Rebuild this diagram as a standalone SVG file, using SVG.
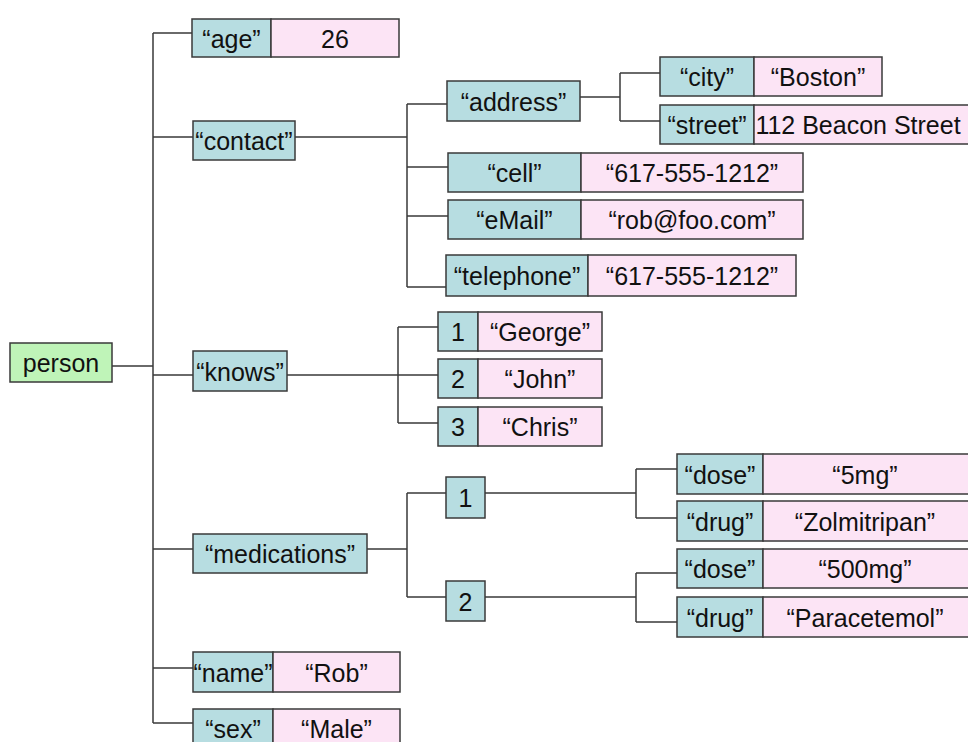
<svg xmlns="http://www.w3.org/2000/svg" width="968" height="742" viewBox="0 0 968 742">
<style>
.k{fill:#b7dde1;stroke:#3a3a3a;stroke-width:1.5}
.v{fill:#fce4f5;stroke:#3a3a3a;stroke-width:1.5}
.r{fill:#bff4b8;stroke:#3a3a3a;stroke-width:1.5}
text{font-family:"Liberation Sans",Arial,sans-serif;font-size:25px;fill:#111;text-anchor:middle}
.c{fill:none;stroke:#3a3a3a;stroke-width:1.5}
</style>
<rect width="968" height="742" fill="#fff"/>
<g id="connectors" class="c">
<path d="M153,33V723M112,366H153M153,33H192M153,137H193M153,375H193M153,549H193M153,668H193M153,723H193"/>
<path d="M295,137H407M407,104V287M407,104H447M407,167H448M407,216H448M407,287H446"/>
<path d="M580,97H620M620,73V121M620,73H660M620,121H660"/>
<path d="M287,375H438M398,327V423M398,327H438M398,423H438"/>
<path d="M367,549H407M407,493V597M407,493H446M407,597H446"/>
<path d="M485,493H636M636,469V518M636,469H677M636,518H677"/>
<path d="M485,597H636M636,573V622M636,573H677M636,622H677"/>
</g>
<g id="person"><rect class="r" x="10" y="343" width="102" height="39"/><text x="61" y="372">person</text></g>
<g id="age"><rect class="k" x="192" y="19" width="79" height="38"/><rect class="v" x="271" y="19" width="128" height="38"/><text x="231.5" y="47.5">“age”</text><text x="335" y="47.5">26</text></g>
<g id="contact"><rect class="k" x="193" y="121" width="102" height="39"/><text x="244" y="150">“contact”</text></g>
<g id="address"><rect class="k" x="447" y="81" width="133" height="40"/><text x="513.5" y="111">“address”</text></g>
<g id="city"><rect class="k" x="660" y="57" width="94" height="39"/><rect class="v" x="754" y="57" width="128" height="39"/><text x="707" y="86">“city”</text><text x="818" y="86">“Boston”</text></g>
<g id="street"><rect class="k" x="660" y="105" width="94" height="39"/><rect class="v" x="754" y="105" width="220" height="39"/><text x="707" y="134">“street”</text><text x="858" y="134">112 Beacon Street</text></g>
<g id="cell"><rect class="k" x="448" y="153" width="133" height="39"/><rect class="v" x="581" y="153" width="222" height="39"/><text x="514.5" y="182">“cell”</text><text x="692" y="182">“617-555-1212”</text></g>
<g id="email"><rect class="k" x="448" y="200" width="133" height="39"/><rect class="v" x="581" y="200" width="222" height="39"/><text x="514.5" y="229">“eMail”</text><text x="692" y="229">“rob@foo.com”</text></g>
<g id="telephone"><rect class="k" x="446" y="255" width="142" height="41"/><rect class="v" x="588" y="255" width="208" height="41"/><text x="517" y="285">“telephone”</text><text x="692" y="285">“617-555-1212”</text></g>
<g id="knows"><rect class="k" x="193" y="351" width="94" height="40"/><text x="240" y="380.5">“knows”</text></g>
<g id="knows1"><rect class="k" x="438" y="312" width="40" height="39"/><rect class="v" x="478" y="312" width="124" height="39"/><text x="458" y="341">1</text><text x="540" y="341">“George”</text></g>
<g id="knows2"><rect class="k" x="438" y="359" width="40" height="39"/><rect class="v" x="478" y="359" width="124" height="39"/><text x="458" y="388">2</text><text x="540" y="388">“John”</text></g>
<g id="knows3"><rect class="k" x="438" y="407" width="40" height="39"/><rect class="v" x="478" y="407" width="124" height="39"/><text x="458" y="436">3</text><text x="540" y="436">“Chris”</text></g>
<g id="medications"><rect class="k" x="193" y="534" width="174" height="39"/><text x="280" y="563">“medications”</text></g>
<g id="med1"><rect class="k" x="446" y="477" width="39" height="41"/><text x="465.5" y="507">1</text></g>
<g id="med2"><rect class="k" x="446" y="581" width="39" height="40"/><text x="465.5" y="610.5">2</text></g>
<g id="dose1"><rect class="k" x="677" y="454" width="86" height="40"/><rect class="v" x="763" y="454" width="210" height="40"/><text x="720" y="483.5">“dose”</text><text x="865" y="483.5">“5mg”</text></g>
<g id="drug1"><rect class="k" x="677" y="501" width="86" height="40"/><rect class="v" x="763" y="501" width="210" height="40"/><text x="720" y="530.5">“drug”</text><text x="865" y="530.5">“Zolmitripan”</text></g>
<g id="dose2"><rect class="k" x="677" y="549" width="86" height="39"/><rect class="v" x="763" y="549" width="210" height="39"/><text x="720" y="578">“dose”</text><text x="865" y="578">“500mg”</text></g>
<g id="drug2"><rect class="k" x="677" y="597" width="86" height="40"/><rect class="v" x="763" y="597" width="210" height="40"/><text x="720" y="626.5">“drug”</text><text x="865" y="626.5">“Paracetemol”</text></g>
<g id="name"><rect class="k" x="193" y="652" width="80" height="40"/><rect class="v" x="273" y="652" width="127" height="40"/><text x="233" y="681.5">“name”</text><text x="336.5" y="681.5">“Rob”</text></g>
<g id="sex"><rect class="k" x="193" y="709" width="80" height="39"/><rect class="v" x="273" y="709" width="127" height="39"/><text x="233" y="738">“sex”</text><text x="336.5" y="738">“Male”</text></g>
</svg>
